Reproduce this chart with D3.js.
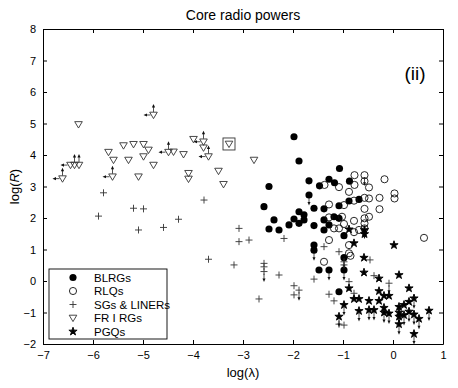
<!DOCTYPE html>
<html>
<head>
<meta charset="utf-8">
<script src="https://cdn.jsdelivr.net/npm/d3@7"></script>
<style>
  body { margin: 0; background: #fff; }
  text { font-family: "Liberation Sans", Arial, Helvetica, sans-serif; }
</style>
</head>
<body>
<div id="chart"></div>
<script>
// data: [log(lambda), log(R), flags]
// flags: u = up arrow, l = left arrow, d = down arrow, b = boxed
const xTicks = [-7, -6, -5, -4, -3, -2, -1, 0, 1];
const yTicks = [-2, -1, 0, 1, 2, 3, 4, 5, 6, 7, 8];

const blrg = [
  [-1.98, 4.58], [-1.88, 3.81], [-1.07, 3.57], [-2.48, 3.0], [-1.68, 3.18], [-1.47, 3.02],
  [-1.28, 3.23], [-1.17, 3.12], [-0.87, 3.17], [-1.68, 2.73, "d"], [-2.58, 2.36], [-1.58, 2.31],
  [-1.38, 2.29], [-1.08, 2.39], [-0.88, 2.54], [-0.68, 2.59], [-1.88, 2.20], [-1.78, 2.10],
  [-1.98, 1.97], [-2.38, 1.94], [-2.48, 1.65], [-2.28, 1.62], [-2.08, 1.78], [-1.88, 1.83],
  [-1.78, 1.94], [-1.58, 1.76], [-1.38, 1.94], [-1.38, 1.62], [-1.18, 2.04], [-1.08, 1.99],
  [-1.28, 1.78], [-0.98, 1.44], [-1.58, 1.14], [-1.58, 0.98, "d"], [-1.48, 0.35],
  [-1.28, 0.35, "d"], [-0.98, 0.35, "d"], [-0.98, 0.74, "d"], [-1.08, -0.34]
];

const rlq = [
  [-0.77, 3.36], [-0.57, 3.36, "d"], [-0.17, 3.23], [-0.77, 3.05], [-0.48, 2.97], [-0.57, 3.17],
  [-0.88, 2.83], [-1.37, 3.05], [-1.08, 2.98], [-1.28, 2.43], [0.03, 2.78], [0.03, 2.62],
  [-0.27, 2.64], [-0.57, 2.64], [-0.48, 2.62], [-0.78, 2.55], [-0.98, 2.41], [-0.27, 2.28],
  [-0.57, 2.29], [-0.48, 2.04], [-0.57, 1.99], [-0.57, 1.83], [-0.78, 1.91], [-1.28, 2.02],
  [-0.98, 1.81], [-1.08, 1.67], [-1.18, 1.67], [-0.68, 1.62], [-0.78, 1.55], [-0.57, 1.67, "d"],
  [-1.28, 1.30], [-0.88, 1.14], [-0.88, 0.88], [-0.85, 0.80], [-1.38, 0.61], [0.62, 1.37],
  [-1.02, 2.04]
];

const sgLiner = [
  [-5.79, 2.80], [-5.89, 2.06], [-5.19, 2.31], [-4.99, 2.29], [-5.09, 1.62], [-4.59, 1.70],
  [-4.29, 1.96], [-3.78, 2.57], [-3.69, 0.69], [-3.08, 1.67], [-3.08, 1.25], [-2.88, 1.30],
  [-2.18, 1.35], [-3.18, 0.51], [-2.58, 0.56], [-2.58, 0.45], [-2.58, 0.30, "d"], [-2.28, 0.19],
  [-2.68, -0.57], [-1.98, -0.15], [-1.98, -0.44], [-1.88, -0.29, "d"], [-1.58, 0.06],
  [-1.38, 1.09], [-1.08, 0.93], [-1.28, -0.42], [-1.18, -0.63], [-0.88, -0.02], [-0.78, -0.39],
  [-0.46, 0.67], [-0.38, 0.17], [-0.08, -0.07, "d"], [-0.98, -1.40], [-1.08, -1.37],
  [-0.98, 0.61], [-0.98, 0.51]
];

const fr1 = [
  [-6.61, 3.25, "ul"], [-6.29, 4.97], [-6.45, 3.68, "l"], [-6.37, 3.68, "u"], [-6.28, 3.68, "u"],
  [-5.69, 4.09], [-5.59, 3.84], [-5.39, 4.30], [-5.29, 3.84], [-5.19, 4.34], [-4.99, 4.34],
  [-4.89, 4.16], [-4.99, 3.95], [-4.79, 3.68], [-5.09, 3.31], [-5.61, 3.31, "ul"],
  [-4.79, 5.27, "ul"], [-4.49, 4.09, "ul"], [-4.39, 4.10], [-4.19, 4.02], [-3.99, 4.50],
  [-3.79, 4.42, "ul"], [-3.79, 4.23], [-3.69, 3.95, "ul"], [-4.09, 3.42], [-4.09, 3.24],
  [-3.49, 3.49], [-3.39, 3.07], [-3.28, 4.35, "b"], [-2.78, 3.84]
];

const pgq = [
  [-0.88, 1.64], [-0.57, 1.62], [-0.57, 1.49], [-0.78, 1.20], [0.02, 1.14], [-0.58, 0.74],
  [-0.58, 0.27], [-0.28, 0.08], [0.12, 0.19], [0.32, -0.23], [-0.88, -0.23], [-0.28, -0.32],
  [-0.18, -0.47], [-0.08, -0.47], [-0.78, -0.57], [-0.68, -0.57], [-0.48, -0.63], [-0.28, -0.63],
  [-0.98, -0.76, "d"], [0.42, -0.55, "d"], [0.32, -0.66], [0.22, -0.76], [0.12, -0.82],
  [-0.68, -0.95, "d"], [-0.48, -0.92, "d"], [-0.38, -0.92, "d"], [-0.18, -0.85],
  [-0.18, -1.0, "d"], [-0.08, -1.03, "d"], [0.12, -1.0, "d"], [0.12, -1.13, "d"],
  [0.22, -1.08, "d"], [0.32, -0.97, "d"], [0.42, -1.06, "d"], [0.52, -1.2, "d"],
  [0.72, -0.94, "d"], [-1.08, -1.13, "d"], [0.12, -1.37, "d"], [0.42, -1.68, "d"]
];

const legendLabels = ["BLRGs", "RLQs", "SGs & LINERs", "FR I RGs", "PGQs"];

const W = 458, H = 388;
const margin = {top: 29, right: 15, bottom: 44, left: 43};

const svg = d3.select("#chart").append("svg")
  .attr("width", W)
  .attr("height", H);

const x = d3.scaleLinear().domain([-7, 1]).range([margin.left, W - margin.right]);
const y = d3.scaleLinear().domain([-2, 8]).range([H - margin.bottom, margin.top]);

// marker shapes
const star = d3.symbol().type(d3.symbolStar).size(21)();
const shapes = {
  blrg: {d: d3.symbol().type(d3.symbolCircle).size(40)(), fill: "#000", stroke: "none"},
  rlq: {d: d3.symbol().type(d3.symbolCircle).size(40)(), fill: "none", stroke: "#111"},
  sg: {d: "M-3.5,0H3.5M0,-3.5V3.5", fill: "none", stroke: "#333"},
  fr1: {d: "M-3.8,-2.8L3.8,-2.8L0,3.6Z", fill: "none", stroke: "#333"},
  pgq: {d: star, fill: "#000", stroke: "#000"}
};

const series = [
  {key: "blrg", data: blrg},
  {key: "rlq", data: rlq},
  {key: "sg", data: sgLiner},
  {key: "fr1", data: fr1},
  {key: "pgq", data: pgq}
];

const plot = svg.append("g");

series.forEach(function (s) {
  const sh = shapes[s.key];
  const g = plot.selectAll("g." + s.key)
    .data(s.data)
    .enter()
    .append("g")
    .attr("class", s.key)
    .attr("transform", d => "translate(" + x(d[0]) + "," + y(d[1]) + ")");

  // limit arrows
  g.filter(d => (d[2] || "").includes("u")).append("path")
    .attr("d", "M0,-3V-8").attr("stroke", "#222").attr("stroke-width", 0.8);
  g.filter(d => (d[2] || "").includes("u")).append("path")
    .attr("d", "M-1.6,-7.5L0,-11L1.6,-7.5Z").attr("fill", "#111");
  g.filter(d => (d[2] || "").includes("l")).append("path")
    .attr("d", "M-3,0H-7").attr("stroke", "#222").attr("stroke-width", 0.8);
  g.filter(d => (d[2] || "").includes("l")).append("path")
    .attr("d", "M-6.5,-1.6L-10,0L-6.5,1.6Z").attr("fill", "#111");
  g.filter(d => (d[2] || "").includes("d")).append("path")
    .attr("d", "M0,2V8").attr("stroke", "#222").attr("stroke-width", 0.8);
  g.filter(d => (d[2] || "").includes("d")).append("path")
    .attr("d", "M-1.5,7L0,10.5L1.5,7Z").attr("fill", "#111");
  g.filter(d => (d[2] || "").includes("b")).append("rect")
    .attr("x", -6).attr("y", -6).attr("width", 12).attr("height", 12)
    .attr("fill", "none").attr("stroke", "#333").attr("stroke-width", 0.9);

  g.append("path")
    .attr("d", sh.d)
    .attr("fill", sh.fill)
    .attr("stroke", sh.stroke)
    .attr("stroke-width", 0.9);
});

// axes, ticks pointing inward on all four sides
const axisB = d3.axisBottom(x).tickValues(xTicks).tickSizeInner(-4).tickSizeOuter(0).tickPadding(7);
const axisL = d3.axisLeft(y).tickValues(yTicks).tickSizeInner(-4).tickSizeOuter(0).tickPadding(7);
const axisT = d3.axisTop(x).tickValues(xTicks).tickSizeInner(-4).tickSizeOuter(0).tickFormat("");
const axisR = d3.axisRight(y).tickValues(yTicks).tickSizeInner(-4).tickSizeOuter(0).tickFormat("");

svg.append("g").attr("transform", "translate(0," + y(-2) + ")").call(axisB);
svg.append("g").attr("transform", "translate(" + x(-7) + ",0)").call(axisL);
svg.append("g").attr("transform", "translate(0," + y(8) + ")").call(axisT);
svg.append("g").attr("transform", "translate(" + x(1) + ",0)").call(axisR);

svg.selectAll(".tick text").attr("font-size", 11).attr("fill", "#000")
  .attr("font-family", "'Liberation Sans', Arial, sans-serif");
svg.selectAll(".domain, .tick line").attr("stroke", "#000");

// title and labels
svg.append("text")
  .attr("x", (x(-7) + x(1)) / 2).attr("y", 20)
  .attr("text-anchor", "middle").attr("font-size", 14)
  .text("Core radio powers");

svg.append("text")
  .attr("x", 415).attr("y", 80)
  .attr("text-anchor", "middle").attr("font-size", 19)
  .text("(ii)");

svg.append("text")
  .attr("x", (x(-7) + x(1)) / 2).attr("y", 377)
  .attr("text-anchor", "middle").attr("font-size", 13)
  .text("log(λ)");

const yl = svg.append("text")
  .attr("transform", "translate(19," + y(3) + ") rotate(-90)")
  .attr("text-anchor", "middle").attr("font-size", 13);
yl.append("tspan").text("log(");
yl.append("tspan").attr("font-style", "italic").text("R");
yl.append("tspan").text(")");

// legend
const legend = svg.append("g").attr("transform", "translate(49,269)");
legend.append("rect")
  .attr("width", 118).attr("height", 70)
  .attr("fill", "#fff").attr("stroke", "#000").attr("stroke-width", 0.9);

const items = legend.selectAll("g.item")
  .data(series)
  .enter()
  .append("g")
  .attr("class", "item")
  .attr("transform", (d, i) => "translate(24," + (8.5 + i * 13.5) + ")");

items.append("path")
  .attr("d", d => shapes[d.key].d)
  .attr("fill", d => shapes[d.key].fill)
  .attr("stroke", d => shapes[d.key].stroke)
  .attr("stroke-width", 0.9);

items.append("text")
  .attr("x", 21).attr("y", 4)
  .attr("font-size", 11.5)
  .text((d, i) => legendLabels[i]);
</script>
</body>
</html>
